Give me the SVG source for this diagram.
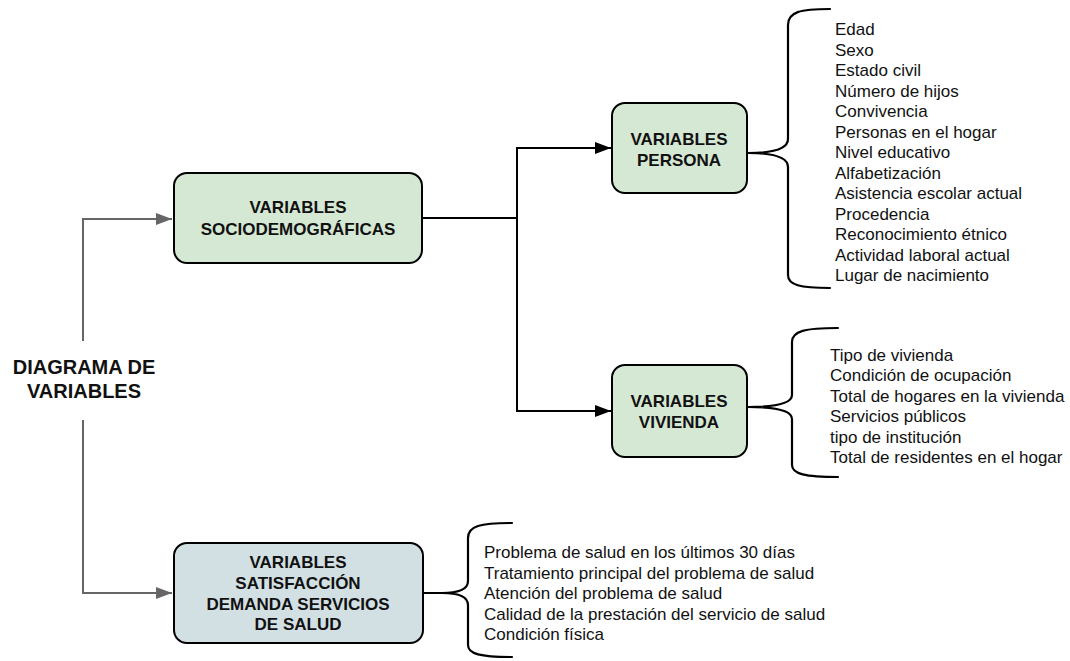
<svg xmlns="http://www.w3.org/2000/svg" width="1070" height="661" viewBox="0 0 1070 661">
<style>
.node{stroke:#000;stroke-width:2}
.green{fill:#d5e8d4}
.blue{fill:#d2e0e4}
.nt{font-family:"Liberation Sans",Arial,sans-serif;font-weight:bold;font-size:17px;fill:#111;text-anchor:middle}
.title{font-family:"Liberation Sans",Arial,sans-serif;font-weight:bold;font-size:20px;fill:#111;text-anchor:middle}
.item{font-family:"Liberation Sans",Arial,sans-serif;font-size:17px;fill:#111}
.gray{fill:none;stroke:#666;stroke-width:2}
.blk{fill:none;stroke:#000;stroke-width:2}
.brace{fill:none;stroke:#000;stroke-width:2.2;stroke-linecap:round}
</style>
<defs>
<marker id="ag" markerUnits="userSpaceOnUse" markerWidth="18" markerHeight="14" refX="16" refY="7" orient="auto"><path d="M0,1 L16,7 L0,13 Z" fill="#666"/></marker>
<marker id="ab" markerUnits="userSpaceOnUse" markerWidth="18" markerHeight="14" refX="16" refY="7" orient="auto"><path d="M0,1 L16,7 L0,13 Z" fill="#000"/></marker>
</defs>
<rect width="1070" height="661" fill="#fff"/>

<g id="connectors">
<path class="gray" d="M83,341 L83,219 L172,219" marker-end="url(#ag)"/>
<path class="gray" d="M83,420 L83,593 L172,593" marker-end="url(#ag)"/>
<path class="blk" d="M423,218 L517,218"/>
<path class="blk" d="M517,218 L517,148 L611,148" marker-end="url(#ab)"/>
<path class="blk" d="M517,218 L517,411 L611,411" marker-end="url(#ab)"/>
<path class="blk" d="M423,593 L442,593"/>
</g>

<g id="title">
<text class="title" x="84" y="374">DIAGRAMA DE</text>
<text class="title" x="84" y="398">VARIABLES</text>
</g>

<g id="node-sociodemograficas">
<rect class="node green" x="174" y="173" width="248" height="90" rx="13"/>
<text class="nt" x="298" y="213">VARIABLES</text>
<text class="nt" x="298" y="235">SOCIODEMOGRÁFICAS</text>
</g>

<g id="node-persona">
<rect class="node green" x="612" y="103" width="135" height="90" rx="13"/>
<text class="nt" x="679" y="145">VARIABLES</text>
<text class="nt" x="679" y="166">PERSONA</text>
</g>

<g id="node-vivienda">
<rect class="node green" x="612" y="365" width="135" height="92" rx="13"/>
<text class="nt" x="679" y="407">VARIABLES</text>
<text class="nt" x="679" y="428">VIVIENDA</text>
</g>

<g id="node-salud">
<rect class="node blue" x="174" y="543" width="249" height="100" rx="13"/>
<text class="nt" x="298" y="568">VARIABLES</text>
<text class="nt" x="298" y="589">SATISFACCIÓN</text>
<text class="nt" x="298" y="610">DEMANDA SERVICIOS</text>
<text class="nt" x="298" y="630">DE SALUD</text>
</g>

<g id="list-persona">
<path class="brace" d="M830,9 C800,9 788,12 788,25 L788,139 C788,149 772,153 748,153 C772,153 788,157 788,167 L788,275 C788,285 800,288 830,288"/>
<text class="item" x="835" y="35">Edad</text>
<text class="item" x="835" y="55.5">Sexo</text>
<text class="item" x="835" y="76">Estado civil</text>
<text class="item" x="835" y="96.5">Número de hijos</text>
<text class="item" x="835" y="117">Convivencia</text>
<text class="item" x="835" y="137.5">Personas en el hogar</text>
<text class="item" x="835" y="158">Nivel educativo</text>
<text class="item" x="835" y="178.5">Alfabetización</text>
<text class="item" x="835" y="199">Asistencia escolar actual</text>
<text class="item" x="835" y="219.5">Procedencia</text>
<text class="item" x="835" y="240">Reconocimiento étnico</text>
<text class="item" x="835" y="260.5">Actividad laboral actual</text>
<text class="item" x="835" y="281">Lugar de nacimiento</text>
</g>

<g id="list-vivienda">
<path class="brace" d="M838,328 C805,328 792,331 792,342 L792,395 C792,403 776,407 748,407 C776,407 792,411 792,419 L792,465 C792,474 805,477 838,477"/>
<text class="item" x="830" y="360.5">Tipo de vivienda</text>
<text class="item" x="830" y="381">Condición de ocupación</text>
<text class="item" x="830" y="401.5">Total de hogares en la vivienda</text>
<text class="item" x="830" y="422">Servicios públicos</text>
<text class="item" x="830" y="442.5">tipo de institución</text>
<text class="item" x="830" y="463">Total de residentes en el hogar</text>
</g>

<g id="list-salud">
<path class="brace" d="M512,523 C480,523 468,526 468,538 L468,581 C468,590 458,593 442,593 C458,593 468,596 468,605 L468,645 C468,654 480,657 512,657"/>
<text class="item" x="484" y="558">Problema de salud en los últimos 30 días</text>
<text class="item" x="484" y="578.5">Tratamiento principal del problema de salud</text>
<text class="item" x="484" y="599">Atención del problema de salud</text>
<text class="item" x="484" y="619.5">Calidad de la prestación del servicio de salud</text>
<text class="item" x="484" y="640">Condición física</text>
</g>
</svg>
